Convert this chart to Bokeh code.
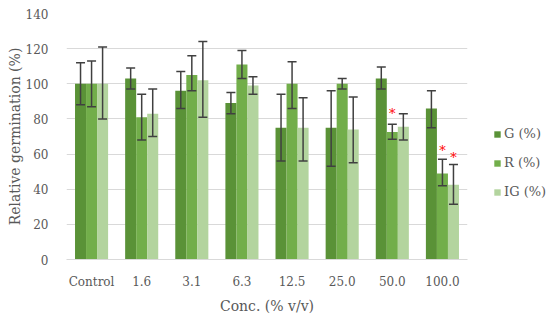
from bokeh.plotting import figure
from bokeh.models import (ColumnDataSource, Whisker, TeeHead, Legend, LegendItem,
                          FactorRange)
from bokeh.transform import dodge
from bokeh.core.properties import value
from bokeh.embed import file_html
from bokeh.resources import INLINE

categories = ["Control", "1.6", "3.1", "6.3", "12.5", "25.0", "50.0", "100.0"]
series_names = ["G (%)", "R (%)", "IG (%)"]

g_vals = [100, 103, 96, 89, 75, 75, 103, 86]
g_err_lo = [88, 97, 86, 83, 56, 53, 97, 75]
g_err_hi = [112, 109, 107, 95, 94, 96, 109.5, 96]

r_vals = [100, 81, 105, 111, 100, 100, 72.5, 49]
r_err_lo = [87, 68, 96, 103, 86, 97, 68.5, 42]
r_err_hi = [113, 94, 116, 119, 112.5, 103, 77, 57]

ig_vals = [100, 83, 102, 99, 75, 74, 75.5, 42.5]
ig_err_lo = [80, 70, 81, 94, 56, 55, 68, 31.5]
ig_err_hi = [121, 97, 124, 104, 92, 92.5, 83, 54]

# significance markers (category, series index, marker height)
sig_cats = ["50.0", "100.0", "100.0"]
sig_series = [1, 1, 2]
sig_y = [83, 62, 58]

colors = ["#5A9237", "#72AE4A", "#B3D49E"]
offsets = [-0.22, 0.0, 0.22]
text_color = "#595959"
font = "DejaVu Serif"

p = figure(x_range=FactorRange(*categories), y_range=(0, 140),
           width=548, height=318, output_backend="svg", toolbar_location=None,
           min_border_left=66, min_border_right=0, min_border_top=13,
           min_border_bottom=0)
p.frame_width = 401
p.frame_height = 246

data = [(g_vals, g_err_lo, g_err_hi), (r_vals, r_err_lo, r_err_hi),
        (ig_vals, ig_err_lo, ig_err_hi)]

renderers = []
for i, (vals, lo, hi) in enumerate(data):
    src = ColumnDataSource(dict(cat=categories, val=vals, lo=lo, hi=hi))
    r = p.vbar(x=dodge("cat", offsets[i], range=p.x_range), top="val",
               width=0.22, source=src, fill_color=colors[i], line_color=None)
    renderers.append(r)
    w = Whisker(base=dodge("cat", offsets[i], range=p.x_range), upper="hi",
                lower="lo", source=src, line_color="#404040", line_width=1.5,
                upper_head=TeeHead(size=9, line_color="#404040", line_width=1.5),
                lower_head=TeeHead(size=9, line_color="#404040", line_width=1.5),
                level="annotation")
    p.add_layout(w)

for c, s, y in zip(sig_cats, sig_series, sig_y):
    src = ColumnDataSource(dict(cat=[c], y=[y], t=["*"]))
    p.text(x=dodge("cat", offsets[s], range=p.x_range), y="y", text="t",
           source=src, text_color="red", text_align="center",
           text_baseline="middle", text_font_size="13px",
           text_font=value(font))

p.xgrid.grid_line_color = None
p.ygrid.grid_line_color = "#D9D9D9"
p.ygrid.grid_line_width = 1
p.yaxis.ticker = [0, 20, 40, 60, 80, 100, 120, 140]
p.outline_line_color = None

for ax in (p.xaxis[0], p.yaxis[0]):
    ax.major_tick_line_color = None
    ax.minor_tick_line_color = None
    ax.major_label_text_font = font
    ax.major_label_text_font_size = "12px"
    ax.major_label_text_color = text_color
    ax.axis_label_text_font = font
    ax.axis_label_text_font_size = "14px"
    ax.axis_label_text_font_style = "normal"
    ax.axis_label_text_color = text_color
p.yaxis.axis_line_color = None
p.xaxis.axis_line_color = "#D9D9D9"
p.xaxis.axis_label = "Conc. (% v/v)"
p.yaxis.axis_label = "Relative germination (%)"
p.yaxis.major_label_standoff = 12
p.yaxis.axis_label_standoff = 0
p.xaxis.major_label_standoff = 9
p.xaxis.axis_label_standoff = 6

legend = Legend(items=[LegendItem(label=n, renderers=[r]) for n, r in zip(series_names, renderers)],
                location=(26, 60), border_line_color=None, background_fill_alpha=0,
                label_text_font=font, label_text_font_size="13px",
                label_text_color=text_color, glyph_width=8, glyph_height=8,
                label_height=14, spacing=14, padding=0, margin=0,
                label_standoff=3)
p.add_layout(legend, "right")
p.min_border_right = 75

open("out.html", "w").write(file_html(p, INLINE))
